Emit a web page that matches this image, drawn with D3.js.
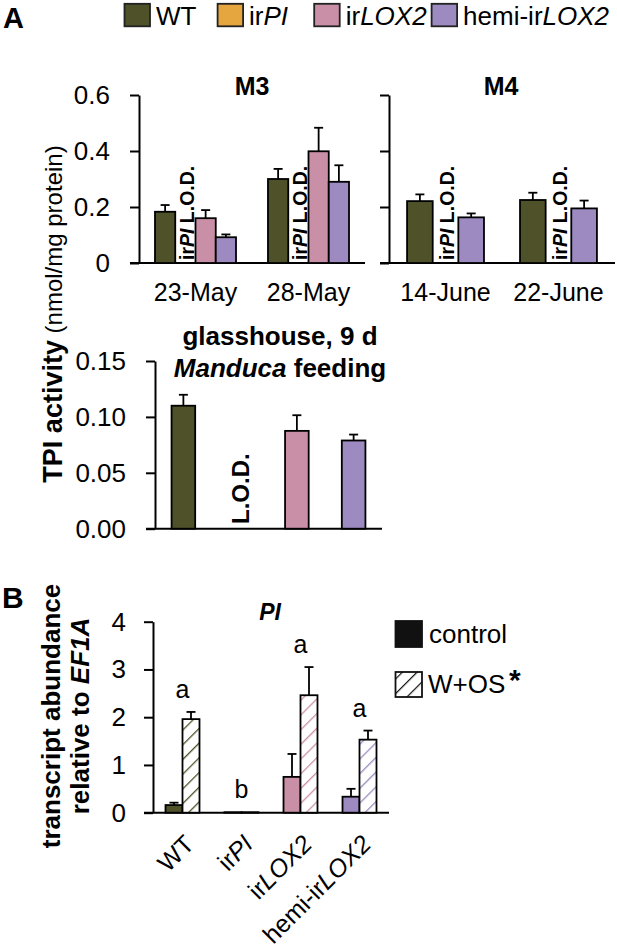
<!DOCTYPE html>
<html><head><meta charset="utf-8">
<script src="https://cdn.jsdelivr.net/npm/d3@7"></script>
<style>
html,body{margin:0;padding:0;background:#fff;}
svg{display:block;font-family:"Liberation Sans",Arial,Helvetica,sans-serif;}
</style></head>
<body>
<svg id="chart" width="617" height="947"></svg>
<script>
// ---------- DATA ----------
const genotypes = ["WT", "irPI", "irLOX2", "hemi-irLOX2"];
const genotypeColors = ["#4f5229", "#e6a63f", "#c98fa6", "#9c8ac1"];
const genotypeLabelParts = [
  [["WT", false]],
  [["ir", false], ["PI", true]],
  [["ir", false], ["LOX2", true]],
  [["hemi-ir", false], ["LOX2", true]]
];

// Panel A, field M3
const m3Dates = ["23-May", "28-May"];
const m3WT = [0.183, 0.300];
const m3WTErr = [0.024, 0.036];
const m3irLOX2 = [0.160, 0.399];
const m3irLOX2Err = [0.029, 0.084];
const m3Hemi = [0.092, 0.290];
const m3HemiErr = [0.010, 0.059];

// Panel A, field M4
const m4Dates = ["14-June", "22-June"];
const m4WT = [0.221, 0.225];
const m4WTErr = [0.024, 0.026];
const m4Hemi = [0.163, 0.195];
const m4HemiErr = [0.014, 0.028];

// Panel A, glasshouse (irPI below detection limit -> null)
const ghValues = [0.110, null, 0.0875, 0.0789];
const ghErr = [0.0098, null, 0.014, 0.0053];

// Panel B, PI transcripts
const bControl = [0.16, 0.01, 0.75, 0.335];
const bControlErr = [0.05, 0, 0.48, 0.165];
const bWOS = [1.96, 0.01, 2.46, 1.53];
const bWOSErr = [0.15, 0, 0.59, 0.19];
const bLetters = ["a", "b", "a", "a"];

const m3Ticks = [0, 0.2, 0.4, 0.6];
const ghTicks = [0, 0.05, 0.10, 0.15];
const bTicks = [0, 1, 2, 3, 4];

// ---------- SETUP ----------
const svg = d3.select("#chart");
const defs = svg.append("defs");
const SW = 1.8;
const TICKFS = 26;

function hatch(id, color, w) {
  const p = defs.append("pattern").attr("id", id)
    .attr("patternUnits", "userSpaceOnUse")
    .attr("width", 10.4).attr("height", 10.4)
    .attr("patternTransform", "rotate(45)");
  p.append("rect").attr("width", 10.4).attr("height", 10.4).attr("fill", "#fff");
  p.append("line").attr("x1", 0).attr("y1", 0).attr("x2", 0).attr("y2", 10.4)
    .attr("stroke", color).attr("stroke-width", w);
}
genotypeColors.forEach((c, i) => hatch("h" + i, c, 2.6));
hatch("hblack", "#111", 2.4);

function addParts(sel, parts) {
  parts.forEach(([t, it]) => {
    sel.append("tspan").text(t).attr("font-style", it ? "italic" : "normal");
  });
}

function bar(g, x, w, y0, y1, fill) {
  g.append("rect").attr("x", x).attr("y", Math.min(y0, y1)).attr("width", w)
    .attr("height", Math.abs(y0 - y1)).attr("fill", fill)
    .attr("stroke", "#000").attr("stroke-width", SW);
}
function errBar(g, cx, yTop, yErr) {
  g.append("line").attr("x1", cx).attr("x2", cx).attr("y1", yTop).attr("y2", yErr)
    .attr("stroke", "#000").attr("stroke-width", SW);
  g.append("line").attr("x1", cx - 4.5).attr("x2", cx + 4.5).attr("y1", yErr).attr("y2", yErr)
    .attr("stroke", "#000").attr("stroke-width", SW);
}
function styleAxis(g, fs) {
  g.selectAll("path.domain").attr("stroke", "#000").attr("stroke-width", 2);
  g.selectAll(".tick line").attr("stroke", "#000").attr("stroke-width", 2);
  g.selectAll(".tick text").attr("font-size", fs).attr("fill", "#000")
    .attr("font-family", '"Liberation Sans",Arial,sans-serif');
}
function hline(x1, x2, y) {
  svg.append("line").attr("x1", x1).attr("x2", x2).attr("y1", y).attr("y2", y)
    .attr("stroke", "#000").attr("stroke-width", 2);
}
function lodText(x, y, parts, fs) {
  const t = svg.append("text").attr("transform", `translate(${x},${y}) rotate(-90)`)
    .attr("font-size", fs).attr("font-weight", "bold").attr("text-anchor", "start");
  addParts(t, parts);
}

// ---------- PANEL LABELS / LEGEND A ----------
svg.append("text").attr("x", 3).attr("y", 28).attr("font-size", 29).attr("font-weight", "bold").text("A");
svg.append("text").attr("x", 2).attr("y", 608).attr("font-size", 30).attr("font-weight", "bold").text("B");

const legendX = [124.5, 217.6, 314.2, 431.6];
genotypes.forEach((gname, i) => {
  svg.append("rect").attr("x", legendX[i]).attr("y", 3.8).attr("width", 25.5).attr("height", 22.5)
    .attr("fill", genotypeColors[i]).attr("stroke", "#222").attr("stroke-width", SW);
  const t = svg.append("text").attr("x", legendX[i] + 31.5).attr("y", 25.3).attr("font-size", 26);
  addParts(t, genotypeLabelParts[i]);
});

// ---------- PANEL A: M3 ----------
const yA = d3.scaleLinear().domain([0, 0.6]).range([263, 95]);
const xM3 = d3.scaleBand().domain(m3Dates).range([139, 365]).paddingInner(0.283).paddingOuter(0.1415);
const sM3 = d3.scaleBand().domain([0, 1, 2, 3]).range([0, xM3.bandwidth()]);

const gM3y = svg.append("g").attr("transform", "translate(139,0)")
  .call(d3.axisLeft(yA).tickValues(m3Ticks).tickSize(9).tickSizeOuter(0).tickPadding(20).tickFormat(d3.format("")));
styleAxis(gM3y, TICKFS);
hline(130, 365, 263);

const gM3 = svg.append("g");
m3Dates.forEach((d, i) => {
  const x0 = xM3(d);
  const series = [[m3WT, m3WTErr, 0], [m3irLOX2, m3irLOX2Err, 2], [m3Hemi, m3HemiErr, 3]];
  series.forEach(([vals, errs, gi]) => {
    const x = x0 + sM3(gi);
    bar(gM3, x, sM3.bandwidth(), yA(0), yA(vals[i]), genotypeColors[gi]);
    errBar(gM3, x + sM3.bandwidth() / 2, yA(vals[i]), yA(vals[i] + errs[i]));
  });
  lodText(x0 + sM3(1) + sM3.bandwidth() / 2 + 8.5, 260, [["ir", false], ["PI", true], [" L.O.D.", false]], 19.5);
  svg.append("text").attr("x", x0 + xM3.bandwidth() / 2).attr("y", 301).attr("font-size", 25)
    .attr("text-anchor", "middle").text(d);
});
svg.append("text").attr("x", 252).attr("y", 95).attr("font-size", 25).attr("font-weight", "bold")
  .attr("text-anchor", "middle").text("M3");

// ---------- PANEL A: M4 ----------
const xM4 = d3.scaleBand().domain(m4Dates).range([389, 615]).paddingInner(0.319).paddingOuter(0.16);
const sM4 = d3.scaleBand().domain([0, 1, 2]).range([0, xM4.bandwidth()]);
const gM4y = svg.append("g").attr("transform", "translate(389,0)")
  .call(d3.axisLeft(yA).tickValues(m3Ticks).tickSize(9).tickSizeOuter(0).tickFormat(""));
styleAxis(gM4y, TICKFS);
hline(380, 615, 263);
const gM4 = svg.append("g");
m4Dates.forEach((d, i) => {
  const x0 = xM4(d);
  const series = [[m4WT, m4WTErr, 0, 0], [m4Hemi, m4HemiErr, 3, 2]];
  series.forEach(([vals, errs, gi, slot]) => {
    const x = x0 + sM4(slot);
    bar(gM4, x, sM4.bandwidth(), yA(0), yA(vals[i]), genotypeColors[gi]);
    errBar(gM4, x + sM4.bandwidth() / 2, yA(vals[i]), yA(vals[i] + errs[i]));
  });
  lodText(x0 + sM4(1) + sM4.bandwidth() / 2 + 8.5, 260, [["ir", false], ["PI", true], [" L.O.D.", false]], 19.5);
  svg.append("text").attr("x", x0 + xM4.bandwidth() / 2).attr("y", 301).attr("font-size", 25)
    .attr("text-anchor", "middle").text(d);
});
svg.append("text").attr("x", 501).attr("y", 95).attr("font-size", 25).attr("font-weight", "bold")
  .attr("text-anchor", "middle").text("M4");

// ---------- PANEL A: glasshouse ----------
const yG = d3.scaleLinear().domain([0, 0.15]).range([528.7, 361]);
const xG = d3.scaleBand().domain(genotypes).range([155, 382]).paddingInner(0.584).paddingOuter(0.292);
const gGy = svg.append("g").attr("transform", "translate(155,0)")
  .call(d3.axisLeft(yG).tickValues(ghTicks).tickSize(9).tickSizeOuter(0).tickPadding(20).tickFormat(d3.format(".2f")));
styleAxis(gGy, TICKFS);
hline(146, 382, 528.7);
const gG = svg.append("g");
genotypes.forEach((gname, i) => {
  const x = xG(gname);
  if (ghValues[i] == null) {
    lodText(x + xG.bandwidth() / 2 + 9, 524, [["L.O.D.", false]], 24);
    return;
  }
  bar(gG, x, xG.bandwidth(), yG(0), yG(ghValues[i]), genotypeColors[i]);
  errBar(gG, x + xG.bandwidth() / 2, yG(ghValues[i]), yG(ghValues[i] + ghErr[i]));
});
svg.append("text").attr("x", 280).attr("y", 345).attr("font-size", 26).attr("font-weight", "bold")
  .attr("text-anchor", "middle").text("glasshouse, 9 d");
const ght = svg.append("text").attr("x", 280).attr("y", 377).attr("font-size", 26).attr("font-weight", "bold")
  .attr("text-anchor", "middle");
addParts(ght, [["Manduca", true], [" feeding", false]]);

// Y title A
const yt = svg.append("text").attr("transform", "translate(62,314) rotate(-90)").attr("text-anchor", "middle");
yt.append("tspan").attr("font-weight", "bold").attr("font-size", 27).text("TPI activity");
yt.append("tspan").attr("font-size", 24).text(" (nmol/mg protein)");

// ---------- PANEL B ----------
const yB = d3.scaleLinear().domain([0, 4]).range([812.7, 621.7]);
const xB = d3.scaleBand().domain(genotypes).range([153, 389]).paddingInner(0.424).paddingOuter(0.212);
const sB = d3.scaleBand().domain(["control", "W+OS"]).range([0, xB.bandwidth()]);
const gBy = svg.append("g").attr("transform", "translate(153,0)")
  .call(d3.axisLeft(yB).tickValues(bTicks).tickSize(9).tickSizeOuter(0).tickPadding(18).tickFormat(d3.format("d")));
styleAxis(gBy, TICKFS);
hline(144, 389, 812.7);
const gB = svg.append("g");
genotypes.forEach((gname, i) => {
  const x0 = xB(gname);
  const xc = x0 + sB("control"), xw = x0 + sB("W+OS"), bw = sB.bandwidth();
  bar(gB, xc, bw, yB(0), yB(bControl[i]), genotypeColors[i]);
  bar(gB, xw, bw, yB(0), yB(bWOS[i]), `url(#h${i})`);
  if (bControlErr[i] > 0) errBar(gB, xc + bw / 2, yB(bControl[i]), yB(bControl[i] + bControlErr[i]));
  if (bWOSErr[i] > 0) errBar(gB, xw + bw / 2, yB(bWOS[i]), yB(bWOS[i] + bWOSErr[i]));
  const top = Math.max(bControl[i] + bControlErr[i], bWOS[i] + bWOSErr[i]);
  svg.append("text").attr("x", x0 + xB.bandwidth() / 2).attr("y", yB(top) - 14)
    .attr("font-size", 25).attr("text-anchor", "middle").text(bLetters[i]);
  const lab = svg.append("text")
    .attr("transform", `translate(${x0 + xB.bandwidth() / 2 + 13},${812.7 + 33}) rotate(-45)`)
    .attr("font-size", 25).attr("text-anchor", "end");
  addParts(lab, genotypeLabelParts[i]);
});
svg.append("text").attr("x", 270).attr("y", 620).attr("font-size", 23).attr("font-weight", "bold")
  .attr("font-style", "italic").attr("text-anchor", "middle").text("PI");

// Y title B
const ytb = svg.append("text").attr("transform", "translate(60,716) rotate(-90)")
  .attr("text-anchor", "middle").attr("font-size", 26).attr("font-weight", "bold");
ytb.append("tspan").attr("x", 0).attr("y", 0).text("transcript abundance");
const l2 = ytb.append("tspan").attr("x", 0).attr("y", 29);
l2.append("tspan").text("relative to ");
l2.append("tspan").attr("font-style", "italic").text("EF1A");

// Legend B
svg.append("rect").attr("x", 395.5).attr("y", 621).attr("width", 26.5).attr("height", 26)
  .attr("fill", "#111").attr("stroke", "#111").attr("stroke-width", SW);
svg.append("text").attr("x", 429).attr("y", 643).attr("font-size", 26).text("control");
svg.append("rect").attr("x", 395.5).attr("y", 672).attr("width", 26.5).attr("height", 25)
  .attr("fill", "url(#hblack)").attr("stroke", "#111").attr("stroke-width", SW);
svg.append("text").attr("x", 428).attr("y", 693).attr("font-size", 26).text("W+OS");
svg.append("text").attr("x", 509).attr("y", 690).attr("font-size", 30).attr("font-weight", "bold").text("*");
</script>
</body></html>
